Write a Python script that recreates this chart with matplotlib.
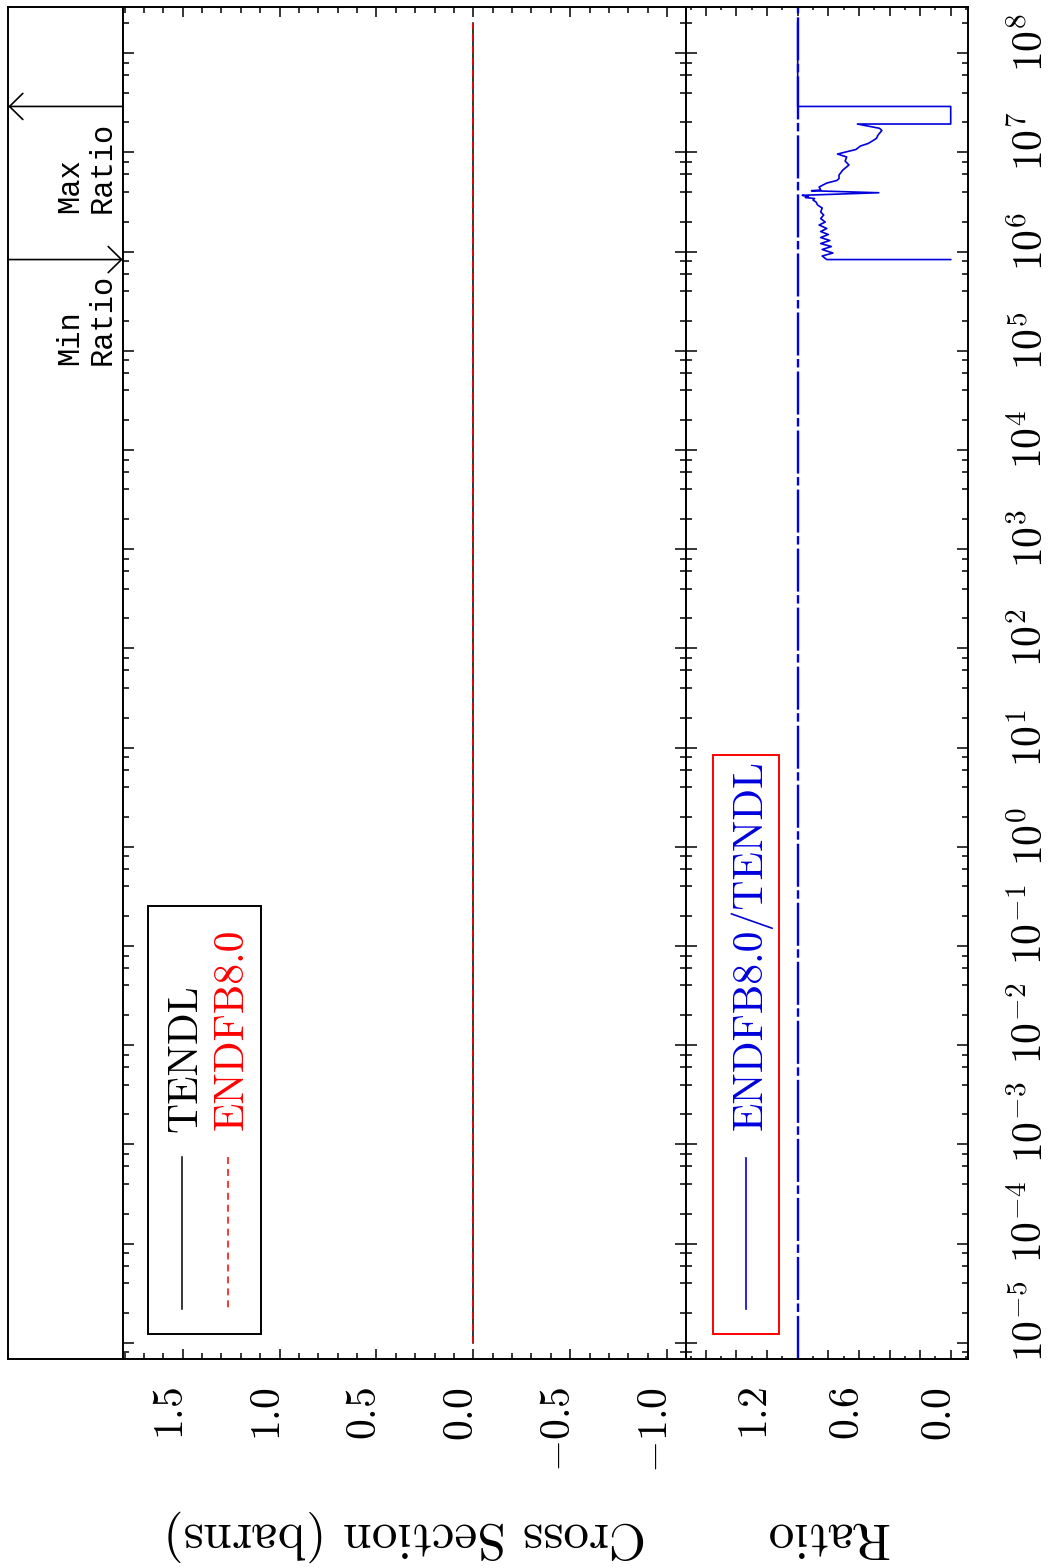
import matplotlib
matplotlib.use("Agg")
import matplotlib.pyplot as plt
import matplotlib.transforms as mtransforms
from matplotlib.ticker import FixedLocator, MultipleLocator, NullFormatter
from matplotlib.patches import Rectangle

plt.rcParams['mathtext.fontset'] = 'cm'
plt.rcParams['lines.scale_dashes'] = False

# ---------------- data ----------------
energy_xs = [1.0e-5, 2.0e8]          # eV
tendl_xs = [0.0, 0.0]                # barns
endf_xs = [0.0, 0.0]                 # barns

ratio_energy = [8.3e5, 8.3e5, 9.01e5, 9.66e5, 1.048e6, 1.123e6, 1.204e6, 1.291e6,
                1.384e6, 1.484e6, 1.591e6, 1.706e6, 1.850e6, 1.983e6, 2.151e6,
                2.333e6, 2.502e6, 2.745e6, 2.943e6, 3.155e6, 3.305e6, 3.422e6,
                3.503e6, 3.585e6, 3.686e6, 3.914e6, 4.10e6, 4.169e6, 4.47e6,
                4.90e6, 5.196e6, 5.44e6, 5.905e6, 6.63e6, 7.45e6, 8.17e6, 8.97e6,
                9.61e6, 1.031e7, 1.067e7, 1.157e7, 1.227e7, 1.279e7, 1.384e7,
                1.494e7, 1.659e7, 1.746e7, 1.929e7, 1.929e7, 2.9e7, 2.9e7, 2.0e8]
ratio_values = [0.0, 0.81, 0.84, 0.77, 0.84, 0.78, 0.85, 0.79, 0.85, 0.80, 0.85,
                0.81, 0.86, 0.82, 0.85, 0.83, 0.85, 0.84, 0.87, 0.88, 0.90, 0.89,
                0.95, 0.93, 0.97, 0.47, 0.91, 0.85, 0.86, 0.81, 0.745, 0.73, 0.73,
                0.705, 0.665, 0.69, 0.68, 0.74, 0.66, 0.62, 0.59, 0.54, 0.52,
                0.485, 0.475, 0.45, 0.465, 0.61, 0.0, 0.0, 1.0, 1.0]

e_min_ratio = 8.3e5
e_max_ratio = 2.9e7

cs_ticks = [1.5, 1.0, 0.5, 0.0, -0.5, -1.0]
cs_tick_labels = ['1.5', '1.0', '0.5', '0.0', '-0.5', '-1.0']
ratio_ticks = [1.2, 0.6, 0.0]
ratio_tick_labels = ['1.2', '0.6', '0.0']
energy_decades = list(range(-5, 9))

cs_label = 'Cross Section (barns)'
ratio_label = 'Ratio'
legend_cs = ['TENDL', 'ENDFB8.0']
legend_ratio = 'ENDFB8.0/TENDL'

# ---------------- layout ----------------
W, H = 1049, 1568
fig = plt.figure(figsize=(W / 100, H / 100), dpi=100)

top_px, bot_px = 6.5, 1359.3
x_strip, x_cs, x_mid, x_right = 8.3, 122.7, 686.0, 968.0


def rect(x0, x1):
    return [x0 / W, (H - bot_px) / H, (x1 - x0) / W, (bot_px - top_px) / H]


ax_s = fig.add_axes(rect(x_strip, x_cs))
ax_c = fig.add_axes(rect(x_cs, x_mid))
ax_r = fig.add_axes(rect(x_mid, x_right))

ylim = (10 ** -5.167, 10 ** 8.47)
major_e = [10.0 ** k for k in energy_decades]
minor_e = [m * 10.0 ** k for k in range(-6, 9) for m in (2, 4, 6, 8)]

for ax in (ax_s, ax_c, ax_r):
    ax.set_yscale('log')
    ax.set_ylim(*ylim)
    for sp in ax.spines.values():
        sp.set_linewidth(1.4)

ax_s.set_xlim(0, 1)
ax_s.set_xticks([])
ax_s.set_yticks([])
ax_s.yaxis.set_minor_locator(FixedLocator([]))

ax_c.set_xlim(1.81, -1.098)
ax_r.set_xlim(1.73, -0.113)

for ax, maj, mino, lmaj, lmin in ((ax_c, 0.5, 0.1, 7.2, 4.3), (ax_r, 0.2, 0.1, 6.5, 2.2)):
    ax.xaxis.set_major_locator(MultipleLocator(maj))
    ax.xaxis.set_minor_locator(MultipleLocator(mino))
    ax.yaxis.set_major_locator(FixedLocator(major_e))
    ax.yaxis.set_minor_locator(FixedLocator(minor_e))
    ax.yaxis.set_minor_formatter(NullFormatter())
    ax.tick_params(axis='x', which='both', direction='in', top=True, bottom=True,
                   labelbottom=False, labeltop=False, width=1.1)
    ax.tick_params(axis='x', which='major', length=lmaj)
    ax.tick_params(axis='x', which='minor', length=lmin)
    ax.tick_params(axis='y', which='both', direction='in', left=True, right=True,
                   labelleft=False, labelright=False, width=1.1)
    ax.tick_params(axis='y', which='major', length=7.9)
    ax.tick_params(axis='y', which='minor', length=4.3)

# ---------------- data lines ----------------
ax_c.plot(tendl_xs, energy_xs, color='black', lw=1.1)
ax_c.plot(endf_xs, energy_xs, color='red', lw=1.1, dashes=(5, 3.6))

ax_r.axvline(1.0, color='#0000ee', lw=1.7, dashes=(31, 2.9, 6.1, 2.5))
ax_r.plot(ratio_values, ratio_energy, color='#0000dd', lw=1.2)


def off(ax, dx_px, dy_px, xdata=True, ydata=False):
    base = mtransforms.blended_transform_factory(
        ax.transData if xdata else ax.transAxes,
        ax.transData if ydata else ax.transAxes)
    return base + mtransforms.ScaledTranslation(dx_px / 100, dy_px / 100, fig.dpi_scale_trans)


# ---------------- tick labels ----------------
for v, lab in zip(cs_ticks, cs_tick_labels):
    ax_c.text(v, 0, '$' + lab + '$', transform=off(ax_c, 0, -27.7), rotation=90,
              rotation_mode='anchor', ha='right', va='baseline', fontsize=30)
for v, lab in zip(ratio_ticks, ratio_tick_labels):
    ax_r.text(v, 0, '$' + lab + '$', transform=off(ax_r, 0, -27.7), rotation=90,
              rotation_mode='anchor', ha='right', va='baseline', fontsize=30)
for k in energy_decades:
    ax_r.text(1, 10.0 ** k, '$10^{%d}$' % k,
              transform=off(ax_r, 75, -19, xdata=False, ydata=True), rotation=90,
              rotation_mode='anchor', ha='left', va='baseline', fontsize=30)

# ---------------- axis labels ----------------
ax_c.text(0.5, 0, cs_label, transform=off(ax_c, 0, -163.7, xdata=False), rotation=180,
          rotation_mode='anchor', ha='center', va='baseline', fontsize=37, family='cmr10')
ax_r.text(0.5, 0, ratio_label, transform=off(ax_r, 0, -163.7, xdata=False), rotation=180,
          rotation_mode='anchor', ha='center', va='baseline', fontsize=37, family='cmr10')

# ---------------- legends ----------------
ax_c.add_patch(Rectangle((0.0454, 0.0187), 0.2006, 0.3164, transform=ax_c.transAxes,
                         fill=False, ec='black', lw=1.4))
ax_c.plot([0.1047, 0.1047], [0.1495, 0.0372], transform=ax_c.transAxes, color='black', lw=1.1)
ax_c.plot([0.1864, 0.1864], [0.1495, 0.0372], transform=ax_c.transAxes, color='red', lw=1.1,
          dashes=(5, 3.6))
ax_c.text(0.1319, 0.1680, legend_cs[0], transform=ax_c.transAxes, rotation=90,
          rotation_mode='anchor', ha='left', va='baseline', fontsize=30, family='cmr10',
          color='black')
ax_c.text(0.2136, 0.1695, legend_cs[1], transform=ax_c.transAxes, rotation=90,
          rotation_mode='anchor', ha='left', va='baseline', fontsize=30, family='cmr10',
          color='red')

ax_r.add_patch(Rectangle((0.0947, 0.0187), 0.2362, 0.4280, transform=ax_r.transAxes,
                         fill=False, ec='red', lw=1.4))
ax_r.plot([0.2128, 0.2128], [0.1487, 0.0372], transform=ax_r.transAxes, color='#0000dd', lw=1.2)
ax_r.text(0.2684, 0.1695, legend_ratio, transform=ax_r.transAxes, rotation=90,
          rotation_mode='anchor', ha='left', va='baseline', fontsize=30, family='cmr10',
          color='#0000dd')

# ---------------- min / max ratio strip ----------------
for e, tip, tail in ((e_max_ratio, 0.0, 1.0), (e_min_ratio, 1.0, 0.0)):
    ax_s.annotate('', xy=(tip, e), xytext=(tail, e), xycoords=('axes fraction', 'data'),
                  textcoords=('axes fraction', 'data'),
                  arrowprops=dict(arrowstyle='->,head_length=0.48,head_width=0.47',
                                  lw=1.2, color='black', mutation_scale=20,
                                  shrinkA=0, shrinkB=0))
ax_s.text(0.6836, 0.8474, 'Max\nRatio', transform=ax_s.transAxes, rotation=90,
          rotation_mode='anchor', ha='left', va='center', fontsize=22,
          family='Liberation Mono', linespacing=1.1)
ax_s.text(0.6836, 0.7350, 'Min\nRatio', transform=ax_s.transAxes, rotation=90,
          rotation_mode='anchor', ha='left', va='center', fontsize=22,
          family='Liberation Mono', linespacing=1.1)

fig.savefig('out.png', dpi=100)
